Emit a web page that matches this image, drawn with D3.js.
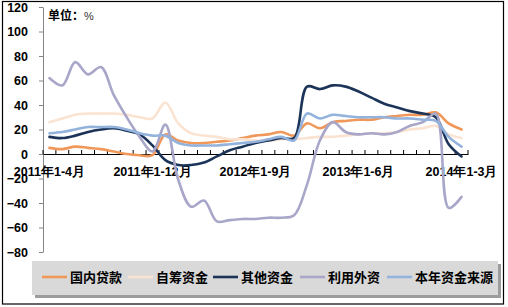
<!DOCTYPE html>
<html><head><meta charset="utf-8">
<script src="https://cdn.jsdelivr.net/npm/d3@7/dist/d3.min.js"></script>
<style>
body{margin:0;background:#fff;}
svg{display:block;font-family:"Liberation Sans",Arial,"Noto Sans CJK SC",sans-serif;}
</style>
</head><body>
<svg id="chart" width="508" height="307"></svg>
<script>
const categories = [
  "2011年1-4月","2011年1-5月","2011年1-6月","2011年1-7月","2011年1-8月","2011年1-9月","2011年1-10月","2011年1-11月","2011年1-12月",
  "2012年1-2月","2012年1-3月","2012年1-4月","2012年1-5月","2012年1-6月","2012年1-7月","2012年1-8月","2012年1-9月","2012年1-10月","2012年1-11月","2012年1-12月",
  "2013年1-2月","2013年1-3月","2013年1-4月","2013年1-5月","2013年1-6月","2013年1-7月","2013年1-8月","2013年1-9月","2013年1-10月","2013年1-11月","2013年1-12月",
  "2014年1-2月","2014年1-3月"
];
const shownLabels = ["2011年1-4月","2011年1-12月","2012年1-9月","2013年1-6月","2014年1-3月"];
const yTicks = [-80,-60,-40,-20,0,20,40,60,80,100,120];

const domesticLoans = [5,4,6,5,4,2,0,-1,-1,16,11,9,9,10,11,13,15,16,18,15,25,21,26,27,28,28,30,31,32,32,34,25,20];
const selfRaised    = [26,29,32,33,33,33,32,30,29,42,25,17,15,14,12,12,11,11,12,12,13,14,14,15,16,17,17,18,20,21,23,16,13];
const otherFunds    = [14,13,15,18,20,21,19,16,7,-5,-9,-9,-7,-2,3,6,9,11,13,13,55,53,56,55,51,46,41,38,35,33,30,8,-2];
const foreignFunds  = [62,56,75,65,71,48,30,14,2,24,-21,-43,-38,-55,-54,-53,-53,-52,-52,-50,-25,11,26,18,16,17,16,18,23,26,33,-44,-35];
const totalFunds    = [17,18,20,22,22,22,20,17,15,15,9,7,7,7,8,9,10,12,14,11,33,29,32,31,30,30,30,29,29,28,27,14,6];

const seriesNames  = ["国内贷款","自筹资金","其他资金","利用外资","本年资金来源"];
const seriesValues = [domesticLoans, selfRaised, otherFunds, foreignFunds, totalFunds];
const seriesColors = ["#f0985a","#fbe3d2","#1b3458","#a8a6c9","#93b2dc"];

const svg = d3.select("#chart");

// outer border
svg.append("rect").attr("x",2.5).attr("y",1.5).attr("width",501).attr("height",302.5)
  .attr("fill","#fff").attr("stroke","#000").attr("stroke-width",1.2);

const x = d3.scaleBand().domain(categories).range([43,468]).paddingInner(0).paddingOuter(0);
const y = d3.scaleLinear().domain([-80,120]).range([252,7]);
const cx = c => x(c) + x.bandwidth()/2;

// y axis
const yAxis = svg.append("g").attr("transform","translate(43,0)")
  .call(d3.axisLeft(y).tickValues(yTicks).tickSize(4).tickSizeOuter(0).tickPadding(11));
yAxis.select(".domain").attr("stroke","#868686");
yAxis.selectAll(".tick line").attr("stroke","#868686");
yAxis.selectAll("text").attr("font-size",12.5).attr("font-weight","bold").attr("fill","#000");

// x axis
const xAxis = svg.append("g").attr("transform",`translate(0,${y(0)})`)
  .call(d3.axisBottom(x).tickValues(shownLabels).tickSize(0).tickSizeOuter(0).tickPadding(18));
xAxis.select(".domain").attr("stroke","#000").attr("stroke-width",1.2);
xAxis.selectAll("text").attr("font-size",12.5).attr("font-weight","bold").attr("fill","#000")
  .attr("dy","0.32em");
// category boundary tick marks
const bounds = categories.map(c => x(c)).concat([x.range()[1]]);
svg.append("g").selectAll("line").data(bounds).join("line")
  .attr("x1",d=>d).attr("x2",d=>d).attr("y1",y(0)-4).attr("y2",y(0))
  .attr("stroke","#000").attr("stroke-width",1);

// unit label
const unit = svg.append("text").attr("x",48).attr("y",20).attr("font-size",12).attr("font-weight","bold");
unit.append("tspan").text("单位：");
unit.append("tspan").attr("font-weight","normal").attr("font-size",11).attr("fill","#333").text("%");

// lines
const line = d3.line().x((d,i)=>cx(categories[i])).y(d=>y(d)).curve(d3.curveCatmullRom.alpha(0.5));
svg.append("g").selectAll("path").data(seriesValues).join("path")
  .attr("d",d=>line(d)).attr("fill","none")
  .attr("stroke",(d,i)=>seriesColors[i]).attr("stroke-width",2.6)
  .attr("stroke-linejoin","round").attr("stroke-linecap","round");

// legend
const lg = svg.append("g");
lg.append("rect").attr("x",35).attr("y",264).attr("width",466).attr("height",34).attr("fill","#5a5a5a").attr("opacity",0.6);
lg.append("rect").attr("x",32).attr("y",261).attr("width",466).attr("height",34).attr("fill","#d9d9d9");
const legendLineX = [42,128,213,300,387];
const legendY = 277;
seriesNames.forEach((n,i)=>{
  lg.append("line").attr("x1",legendLineX[i]).attr("x2",legendLineX[i]+25).attr("y1",legendY).attr("y2",legendY)
    .attr("stroke",seriesColors[i]).attr("stroke-width",2.6);
  lg.append("text").attr("x",legendLineX[i]+28).attr("y",legendY).attr("dy","0.35em")
    .attr("font-size",13).attr("font-weight","bold").attr("fill","#000").text(n);
});
</script>
</body></html>
